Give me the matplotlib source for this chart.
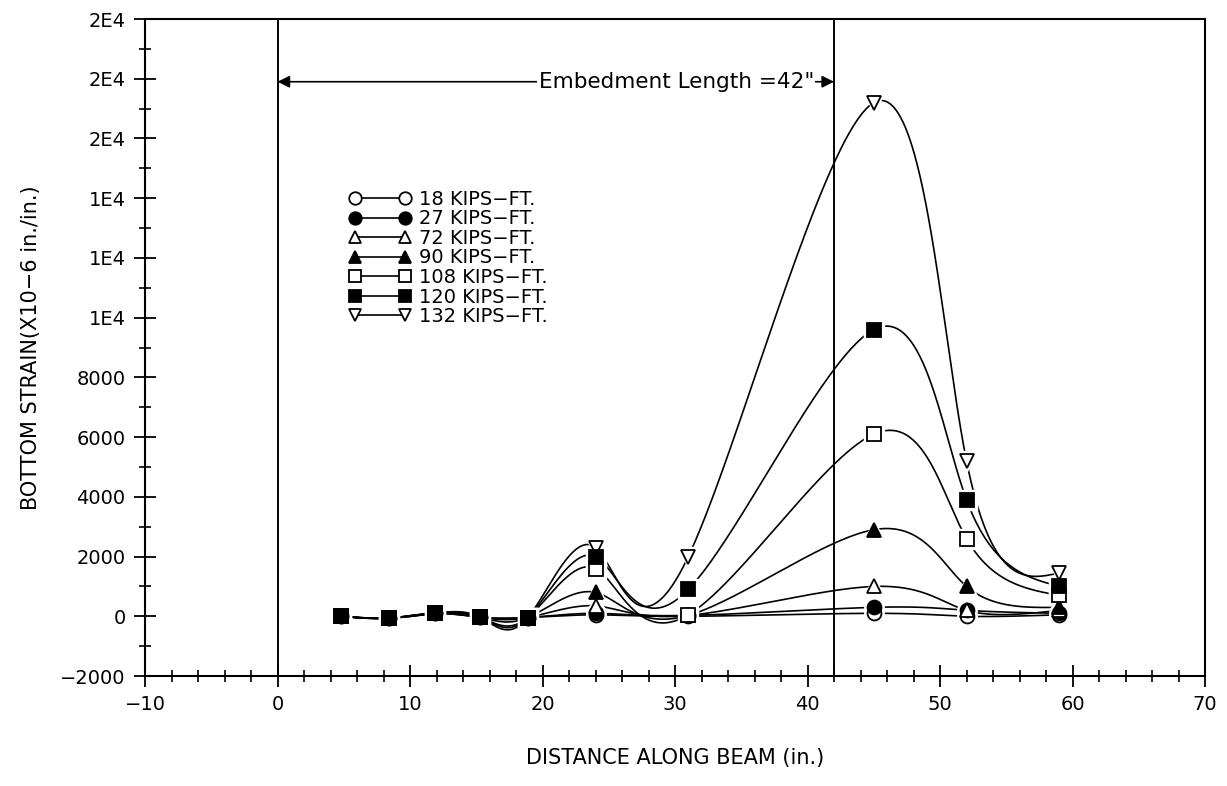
#!/usr/bin/env python3
"""
Bottom strain along beam for several load levels.
"""

import numpy as np
import matplotlib.pyplot as plt
from matplotlib.ticker import MultipleLocator, FuncFormatter

plt.rcParams['font.family'] = ['DejaVu Sans']

# gauge positions (in.)
x_pos = [4.8, 8.4, 11.9, 15.3, 18.9, 24.0, 31.0, 45.0, 52.0, 59.0]

# bottom strain (x10-6 in./in.) per load level
strain_18 = [0, -60, 100, -30, -40, 50, 0, 100, 0, 50]
strain_27 = [0, -60, 100, -30, -40, 100, 30, 300, 200, 100]
strain_72 = [0, -60, 100, -30, -40, 350, 30, 1000, 200, 200]
strain_90 = [0, -60, 100, -30, -40, 800, 30, 2900, 1000, 300]
strain_108 = [0, -60, 100, -30, -40, 1600, 50, 6100, 2600, 700]
strain_120 = [0, -60, 100, -30, -40, 2000, 900, 9600, 3900, 1000]
strain_132 = [0, -60, 100, -30, -40, 2300, 2000, 17200, 5200, 1450]

labels = ['18 KIPS\u2212FT.', '27 KIPS\u2212FT.', '72 KIPS\u2212FT.', '90 KIPS\u2212FT.',
          '108 KIPS\u2212FT.', '120 KIPS\u2212FT.', '132 KIPS\u2212FT.']
embed_len = 42


def natural_spline(t, v, ts):
    """Evaluate a natural cubic spline through (t, v) at ts"""
    t = np.asarray(t, float)
    v = np.asarray(v, float)
    h = np.diff(t)
    m = len(t)
    A = np.zeros((m, m))
    b = np.zeros(m)
    A[0, 0] = A[-1, -1] = 1
    for i in range(1, m - 1):
        A[i, i - 1] = h[i - 1]
        A[i, i] = 2 * (h[i - 1] + h[i])
        A[i, i + 1] = h[i]
        b[i] = 3 * ((v[i + 1] - v[i]) / h[i] - (v[i] - v[i - 1]) / h[i - 1])
    c = np.linalg.solve(A, b)
    idx = np.clip(np.searchsorted(t, ts) - 1, 0, m - 2)
    dt = ts - t[idx]
    bb = (v[1:] - v[:-1]) / h - h * (2 * c[:-1] + c[1:]) / 3
    d = (c[1:] - c[:-1]) / (3 * h)
    return v[idx] + bb[idx] * dt + c[idx] * dt ** 2 + d[idx] * dt ** 3


def smooth_curve(x, y, n=900):
    """Parametric spline on the point index, like the old plotter's curve fit"""
    t = np.arange(len(x), dtype=float)
    ts = np.linspace(0, t[-1], n)
    return natural_spline(t, x, ts), natural_spline(t, y, ts)


def fmt_strain(v, pos):
    if abs(v) >= 10000:
        return f'{v / 1e4:.0f}E4'
    return f'{v:.0f}'.replace('-', '\u2212')


series = [strain_18, strain_27, strain_72, strain_90, strain_108, strain_120, strain_132]
markers = ['o', 'o', '^', '^', 's', 's', 'v']
filled = [False, True, False, True, False, True, False]

fig = plt.figure(figsize=(12.27, 7.86), dpi=100)
ax = fig.add_axes([0.1182, 0.1399, 0.8639, 0.8359])

for vals, mk, fill, lab in zip(series, markers, filled, labels):
    xs, ys = smooth_curve(x_pos, vals)
    ax.plot(xs, ys, color='black', lw=1.2, zorder=2)
    # white halo so the curves stop short of the symbols
    ax.plot(x_pos, vals, ls='none', marker=mk, ms=14, mfc='white', mec='white', zorder=3)
    z = 5 if (mk == 's' and fill) else 4
    ax.plot(x_pos, vals, ls='none', marker=mk, ms=10,
            mfc='black' if fill else 'white', mec='black', mew=1.3, zorder=z)
    # legend handle: symbol -- line -- symbol
    ax.plot([], [], color='black', lw=1.2, marker=mk, ms=9,
            mfc='black' if fill else 'white', mec='black', mew=1.3, label=lab)

ax.axvline(0, color='black', lw=1.4, zorder=1)
ax.axvline(embed_len, color='black', lw=1.4, zorder=1)

ax.annotate('', xy=(0, 17900), xytext=(embed_len, 17900),
            arrowprops=dict(arrowstyle='<|-|>', color='black', lw=1.2,
                            mutation_scale=18, shrinkA=0, shrinkB=0))
ax.text(19.7, 17900, 'Embedment Length =42"', fontsize=15.5, ha='left', va='center',
        bbox=dict(facecolor='white', edgecolor='none', pad=1.0), zorder=6)

ax.set_xlim(-10, 70)
ax.set_ylim(-2000, 20000)
ax.xaxis.set_major_locator(MultipleLocator(10))
ax.xaxis.set_minor_locator(MultipleLocator(2))
ax.yaxis.set_major_locator(MultipleLocator(2000))
ax.yaxis.set_minor_locator(MultipleLocator(1000))
ax.yaxis.set_major_formatter(FuncFormatter(fmt_strain))

ax.tick_params(which='major', direction='inout', length=16, width=1.3, labelsize=14, pad=6)
ax.tick_params(which='minor', direction='inout', length=9, width=1.2)
for sp in ax.spines.values():
    sp.set_linewidth(1.5)

ax.set_xlabel('DISTANCE ALONG BEAM (in.)', fontsize=15, labelpad=24)
ax.set_ylabel('BOTTOM STRAIN(X10\u22126 in./in.)', fontsize=15, labelpad=14)

ax.legend(loc='upper left', bbox_to_anchor=(0.185, 0.752), frameon=False, numpoints=2,
          handlelength=3.2, handletextpad=0.4, labelspacing=0.03, fontsize=14,
          borderaxespad=0)

fig.savefig('out.png', dpi=100)
